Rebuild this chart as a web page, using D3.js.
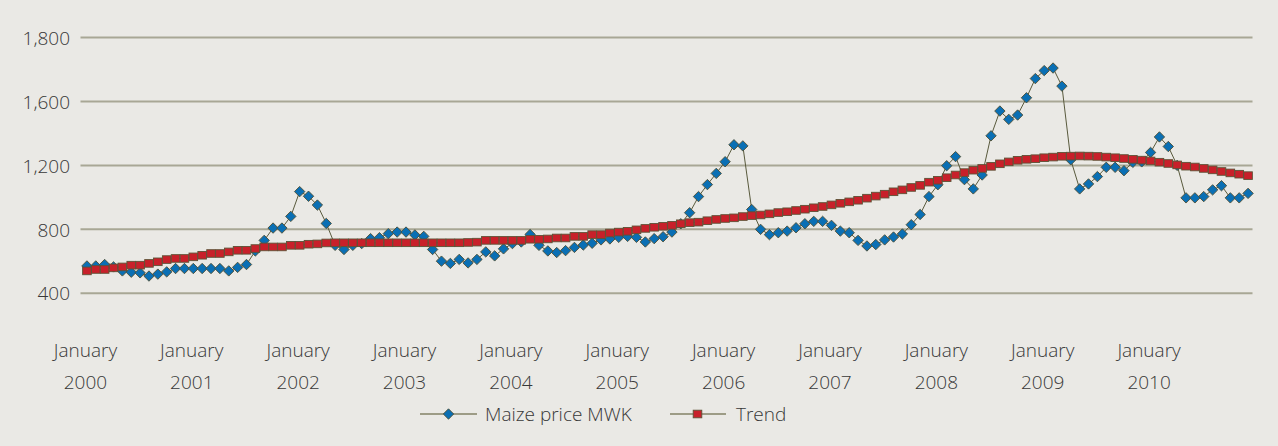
<!DOCTYPE html>
<html>
<head>
<meta charset="utf-8">
<script src="https://cdn.jsdelivr.net/npm/d3@7"></script>
<style>
  html, body { margin: 0; padding: 0; background: #eae9e5; }
  svg { display: block; }
  text { font-family: "Open Sans", "Noto Sans", sans-serif; font-weight: 300; fill: #383838; }
</style>
</head>
<body>
<svg id="chart" width="1278" height="446"></svg>
<script>
// ---- data ----
const years = [2000, 2001, 2002, 2003, 2004, 2005, 2006, 2007, 2008, 2009, 2010];
const monthNames = ["January","February","March","April","May","June","July","August","September","October","November","December"];
const categories = years.flatMap(y => monthNames.map(m => m + " " + y));

const maizePrice = [
  571, 571, 580, 565, 540, 532, 528, 508, 520, 534, 555, 555,
  555, 555, 555, 555, 540, 562, 580, 665, 731, 808, 808, 881,
  1036, 1007, 952, 837, 700, 674, 700, 711, 742, 748, 773, 783,
  783, 765, 756, 674, 601, 587, 612, 590, 612, 659, 634, 678,
  711, 721, 768, 700, 665, 655, 667, 687, 702, 713, 734, 740,
  750, 756, 750, 721, 742, 754, 783, 835, 904, 1005, 1080, 1150,
  1223, 1329, 1322, 924, 800, 767, 779, 789, 810, 835, 850, 850,
  825, 789, 779, 731, 696, 705, 734, 752, 771, 829, 893, 1005,
  1079, 1198, 1255, 1111, 1053, 1140, 1385, 1540, 1488, 1515, 1623, 1743,
  1793, 1809, 1696, 1235, 1053, 1084, 1130, 1188, 1188, 1167, 1219, 1222,
  1281, 1378, 1318, 1200, 997, 997, 1005, 1047, 1073, 997, 997, 1025
];
const trend = [
  540, 549, 549, 559, 565, 576, 576, 587, 597, 611, 618, 618,
  628, 638, 649, 649, 659, 669, 669, 680, 690, 690, 690, 700,
  700, 707, 709, 715, 716, 716, 716, 716, 716, 716, 716, 716,
  716, 716, 716, 716, 716, 716, 716, 718, 720, 731, 731, 731,
  731, 731, 738, 738, 740, 746, 746, 756, 756, 767, 767, 777,
  783, 788, 797, 806, 813, 819, 825, 835, 842, 845, 854, 862,
  868, 872, 880, 886, 890, 897, 905, 910, 918, 926, 935, 943,
  953, 963, 972, 982, 995, 1008, 1020, 1035, 1047, 1062, 1075, 1095,
  1107, 1123, 1140, 1155, 1170, 1181, 1194, 1210, 1222, 1232, 1238, 1242,
  1248, 1252, 1257, 1258, 1259, 1258, 1256, 1252, 1248, 1243, 1238, 1233,
  1228, 1220, 1212, 1203, 1195, 1190, 1181, 1172, 1162, 1153, 1145, 1136
];
const yTickValues = [400, 800, 1200, 1600, 2000];
const yTickLabels = ["400", "800", "1,200", "1,600", "1,800"];
const xTickEvery = 12;
const seriesNames = ["Maize price MWK", "Trend"];

// ---- layout ----
const svg = d3.select("#chart");
const W = 1278, H = 446;
svg.append("rect").attr("width", W).attr("height", H).attr("fill", "#eae9e5");

const plot = { left: 82.5, right: 1252.5, top: 37.5, bottom: 293.3 };
const fs = 19;

const x = d3.scalePoint().domain(categories).range([plot.left, plot.right]).padding(0.5);
const y = d3.scaleLinear().domain([400, 2000]).range([plot.bottom, plot.top]);

// gridlines
svg.append("g").selectAll("line").data(yTickValues).join("line")
  .attr("x1", plot.left - 2).attr("x2", plot.right)
  .attr("y1", d => y(d)).attr("y2", d => y(d))
  .attr("stroke", "#a8a795").attr("stroke-width", 2);

// y axis labels
const yAxis = d3.axisLeft(y).tickValues(yTickValues)
  .tickFormat((d, i) => yTickLabels[i]).tickSize(0).tickPadding(0);
const gy = svg.append("g").attr("transform", `translate(${70},0)`).call(yAxis);
gy.select(".domain").remove();
gy.selectAll("text").attr("font-size", fs).attr("dy", "0.35em")
  .style("font-family", "'Open Sans', sans-serif").attr("fill", "#383838");

// x axis labels
const xLabelCats = categories.filter((d, i) => i % xTickEvery === 0);
const xAxis = d3.axisBottom(x).tickValues(xLabelCats).tickSize(0).tickFormat("");
const gx = svg.append("g").attr("transform", `translate(-2,${plot.bottom})`).call(xAxis);
gx.select(".domain").remove();
gx.selectAll(".tick").each(function(d) {
  const parts = d.split(" ");
  const t = d3.select(this).append("text").attr("text-anchor", "middle")
    .attr("font-size", fs).attr("fill", "#383838");
  t.append("tspan").attr("x", 0).attr("y", 64).text(parts[0]);
  t.append("tspan").attr("x", 0).attr("y", 96).text(parts[1]);
});

// series lines
const lineGen = vals => d3.line().x((d, i) => x(categories[i])).y(d => y(d))(vals);
svg.append("path").attr("d", lineGen(maizePrice)).attr("fill", "none")
  .attr("stroke", "#595a3d").attr("stroke-width", 1);

const diamond = s => `M0,${-s}L${s},0L0,${s}L${-s},0Z`;
svg.append("g").selectAll("path").data(maizePrice).join("path")
  .attr("transform", (d, i) => `translate(${x(categories[i])},${y(d)})`)
  .attr("d", diamond(5.2))
  .attr("fill", "#0a6fb4").attr("stroke", "#4d4e34").attr("stroke-width", 0.9);

svg.append("path").attr("d", lineGen(trend)).attr("fill", "none")
  .attr("stroke", "#595a3d").attr("stroke-width", 1);
svg.append("g").selectAll("rect").data(trend).join("rect")
  .attr("x", (d, i) => x(categories[i]) - 4.3).attr("y", d => y(d) - 3.8)
  .attr("width", 8.6).attr("height", 7.6)
  .attr("fill", "#c8202a").attr("stroke", "#5e5236").attr("stroke-width", 0.9);

// legend
const legY = 414;
const lg = svg.append("g");
lg.append("line").attr("x1", 420).attr("x2", 477).attr("y1", legY).attr("y2", legY)
  .attr("stroke", "#9d9c86").attr("stroke-width", 2);
lg.append("path").attr("d", diamond(5.2)).attr("transform", `translate(448.5,${legY})`)
  .attr("fill", "#0a6fb4").attr("stroke", "#4d4e34").attr("stroke-width", 0.9);
lg.append("text").attr("x", 485).attr("y", legY).attr("dy", "0.35em")
  .attr("font-size", fs).text(seriesNames[0]);

lg.append("line").attr("x1", 670).attr("x2", 726).attr("y1", legY).attr("y2", legY)
  .attr("stroke", "#9d9c86").attr("stroke-width", 2);
lg.append("rect").attr("x", 697.5 - 4.3).attr("y", legY - 3.8).attr("width", 8.6).attr("height", 7.6)
  .attr("fill", "#c8202a").attr("stroke", "#5e5236").attr("stroke-width", 0.9);
lg.append("text").attr("x", 736).attr("y", legY).attr("dy", "0.35em")
  .attr("font-size", fs).text(seriesNames[1]);
</script>
</body>
</html>
